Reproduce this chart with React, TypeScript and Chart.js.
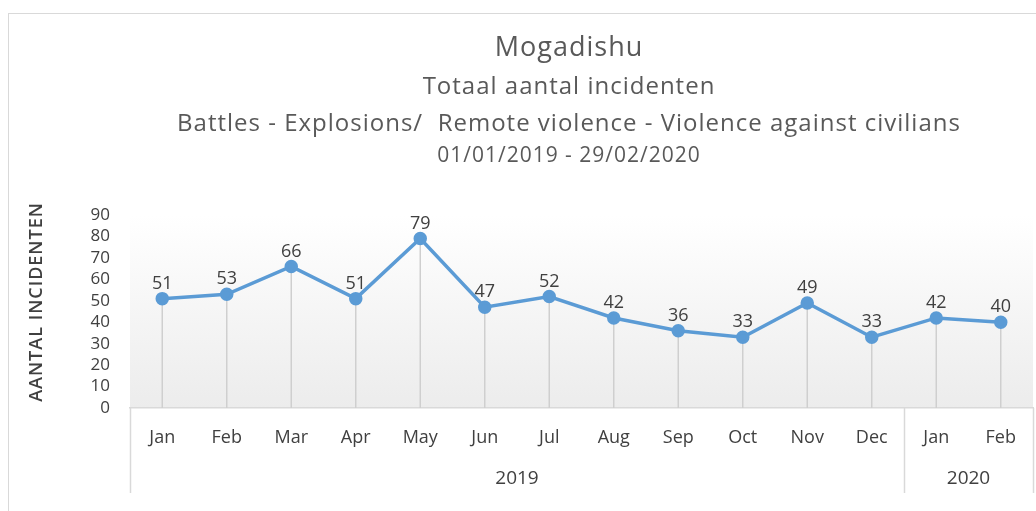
import React, { useEffect, useRef } from "react";
import { Chart, registerables } from "chart.js";

Chart.register(...registerables);

const months: string[] = ["Jan", "Feb", "Mar", "Apr", "May", "Jun", "Jul", "Aug", "Sep", "Oct", "Nov", "Dec", "Jan", "Feb"];
const yearLabels: string[] = ["2019", "2020"];
const yearCounts: number[] = [12, 2];
const incidents: number[] = [51, 53, 66, 51, 79, 47, 52, 42, 36, 33, 49, 33, 42, 40];
const titleLines: string[] = [
  "Mogadishu",
  "Totaal aantal incidenten",
  "Battles - Explosions/  Remote violence - Violence against civilians",
  "01/01/2019 - 29/02/2020",
];
const yAxisTitle = "AANTAL INCIDENTEN";

const FONT = "'Open Sans', sans-serif";
const TEXT = "#404040";
const TITLE = "#595959";
const LINE = "#d9d9d9";

const decorPlugin = {
  id: "decor",
  beforeDraw(chart: any) {
    const { ctx, chartArea } = chart;
    ctx.save();
    // frame
    ctx.strokeStyle = LINE;
    ctx.lineWidth = 1;
    ctx.strokeRect(8.5, 13.5, 1200, 700);
    // plot gradient
    const g = ctx.createLinearGradient(0, chartArea.top, 0, chartArea.bottom);
    g.addColorStop(0, "#ffffff");
    g.addColorStop(1, "#ececec");
    ctx.fillStyle = g;
    ctx.fillRect(chartArea.left, chartArea.top, chartArea.right - chartArea.left, chartArea.bottom - chartArea.top);
    // titles
    ctx.fillStyle = TITLE;
    ctx.textAlign = "center";
    ctx.textBaseline = "middle";
    const cx = 569;
    ctx.letterSpacing = "1px";
    ctx.font = `27px ${FONT}`;
    ctx.fillText(titleLines[0], cx, 48);
    ctx.font = `24px ${FONT}`;
    ctx.fillText(titleLines[1], cx, 87);
    ctx.fillText(titleLines[2], cx, 124);
    ctx.font = `21px ${FONT}`;
    ctx.fillText(titleLines[3], cx, 156);
    // y axis title
    ctx.save();
    ctx.translate(37, 302);
    ctx.rotate(-Math.PI / 2);
    ctx.fillStyle = TEXT;
    ctx.font = `600 18px ${FONT}`;
    ctx.fillText(yAxisTitle, 0, 0);
    ctx.restore();
    ctx.letterSpacing = "0px";
    ctx.restore();
  },
  beforeDatasetsDraw(chart: any) {
    const { ctx, chartArea } = chart;
    const meta = chart.getDatasetMeta(0);
    ctx.save();
    ctx.strokeStyle = "#cfcfcf";
    ctx.lineWidth = 1.5;
    meta.data.forEach((pt: any) => {
      ctx.beginPath();
      ctx.moveTo(pt.x, pt.y);
      ctx.lineTo(pt.x, chartArea.bottom);
      ctx.stroke();
    });
    ctx.restore();
  },
  afterDraw(chart: any) {
    const { ctx, chartArea } = chart;
    const xs = chart.scales.x;
    const meta = chart.getDatasetMeta(0);
    ctx.save();
    // data labels
    ctx.fillStyle = TEXT;
    ctx.font = `18px ${FONT}`;
    ctx.textAlign = "center";
    ctx.textBaseline = "middle";
    meta.data.forEach((pt: any, i: number) => {
      ctx.fillText(String(incidents[i]), pt.x, pt.y - 15);
    });
    // category group separators and year labels
    ctx.strokeStyle = LINE;
    ctx.lineWidth = 1.5;
    let start = 0;
    const bottom = 493;
    const drawSep = (idx: number) => {
      const x = Math.round(xs.getPixelForValue(idx - 0.5)) + 0.5;
      ctx.beginPath();
      ctx.moveTo(x, chartArea.bottom);
      ctx.lineTo(x, bottom);
      ctx.stroke();
    };
    drawSep(0);
    ctx.font = `19px ${FONT}`;
    yearLabels.forEach((lab, gi) => {
      const end = start + yearCounts[gi];
      drawSep(end);
      const x0 = xs.getPixelForValue(start - 0.5);
      const x1 = xs.getPixelForValue(end - 0.5);
      ctx.fillText(lab, (x0 + x1) / 2, 479);
      start = end;
    });
    ctx.restore();
  },
};

export default function App() {
  const ref = useRef<HTMLCanvasElement | null>(null);
  useEffect(() => {
    if (!ref.current) return;
    const chart = new Chart(ref.current, {
      type: "line",
      data: {
        labels: months,
        datasets: [
          {
            data: incidents,
            borderColor: "#5b9bd5",
            backgroundColor: "#5b9bd5",
            borderWidth: 3.5,
            pointRadius: 5,
            pointBackgroundColor: "#5b9bd5",
            pointBorderColor: "#5b9bd5",
            tension: 0,
            clip: false as any,
          },
        ],
      },
      options: {
        animation: false,
        responsive: false,
        layout: { autoPadding: false, padding: { top: 215, right: 3, left: 0, bottom: 0 } },
        plugins: { legend: { display: false }, tooltip: { enabled: false }, title: { display: false } },
        scales: {
          x: {
            offset: true,
            grid: { display: false, drawTicks: false },
            border: { display: true, color: LINE, width: 1.5 },
            ticks: { color: TEXT, font: { family: FONT, size: 18 }, padding: 19, autoSkip: false, maxRotation: 0 },
            afterFit: (s: any) => {
              s.height = 103;
              s.paddingLeft = 0;
              s.paddingRight = 0;
            },
          },
          y: {
            min: 0,
            max: 90,
            grid: { display: false, drawTicks: false },
            border: { display: false },
            ticks: { stepSize: 10, autoSkip: false, color: TEXT, font: { family: FONT, size: 17 }, padding: 20 },
            afterFit: (s: any) => {
              s.width = 130;
              s.paddingTop = 0;
              s.paddingBottom = 0;
            },
          },
        },
      },
      plugins: [decorPlugin],
    });
    return () => chart.destroy();
  }, []);
  return (
    <div style={{ position: "fixed", left: 0, top: 0, width: 1036, height: 511, background: "#fff" }}>
      <canvas ref={ref} width={1036} height={511} />
    </div>
  );
}
